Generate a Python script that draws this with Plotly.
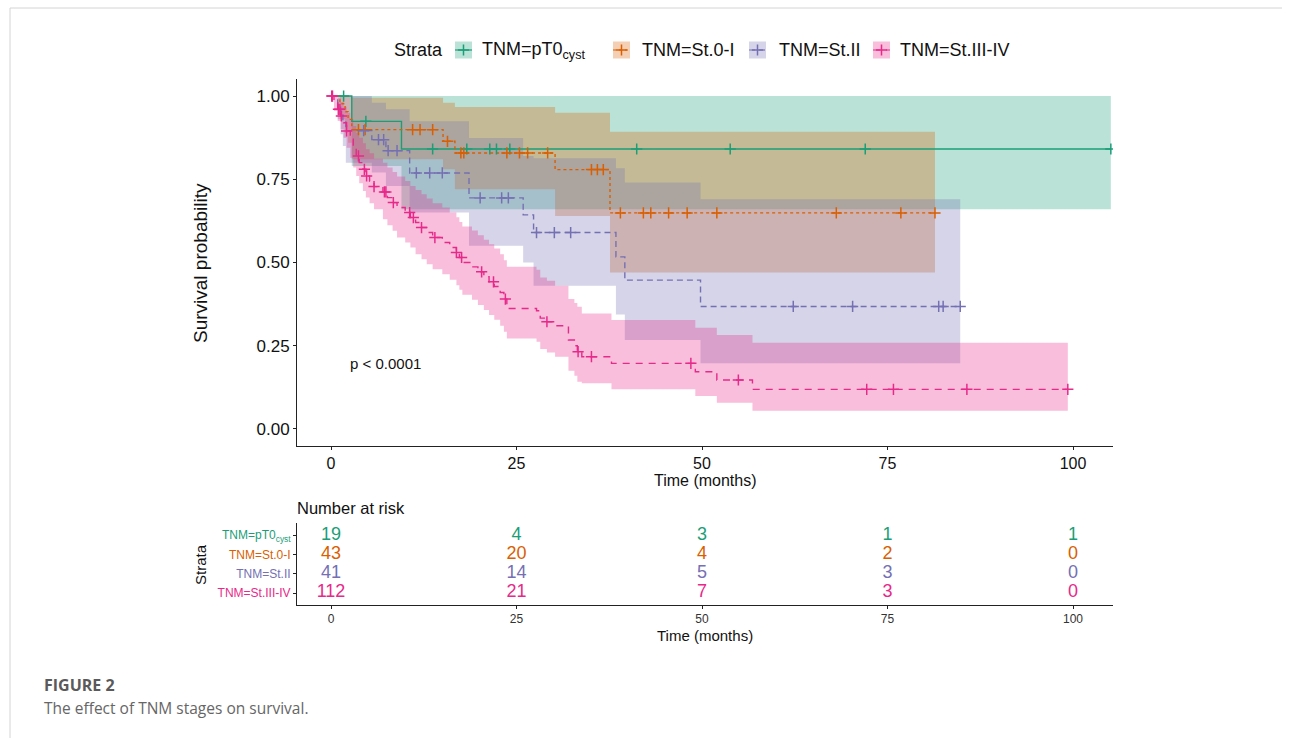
import plotly.graph_objects as go

W, H = 1292, 738

# ---------------- data ----------------
strata = ["TNM=pT0<sub>cyst</sub>", "TNM=St.0-I", "TNM=St.II", "TNM=St.III-IV"]
colors = ["#1B9E77", "#D95F02", "#7570B3", "#E7298A"]
fills = ["rgba(27,158,119,0.3)", "rgba(217,95,2,0.3)", "rgba(117,112,179,0.3)", "rgba(231,41,138,0.3)"]
dashes = ["solid", "3px,3px", "6px,4px", "7px,6px"]

# TNM=pT0cyst
pt0_time = [0, 2.8, 9.5]
pt0_surv = [1.0, 0.924, 0.841]
pt0_lower = [1.0, 0.79, 0.66]
pt0_upper = [1.0, 1.0, 1.0]
pt0_end = 105.1
pt0_censor = [1.7, 4.7, 13.7, 18.3, 21.4, 22.3, 24.1, 41.2, 53.8, 72.0, 105.1]

# TNM=St.0-I
st0_time = [0, 1.2, 1.9, 2.3, 2.8, 15.1, 16.7, 30.2, 37.6]
st0_surv = [1.0, 0.977, 0.953, 0.93, 0.899, 0.864, 0.829, 0.779, 0.649]
st0_lower = [1.0, 0.93, 0.89, 0.86, 0.81, 0.78, 0.72, 0.64, 0.47]
st0_upper = [1.0, 1.0, 1.0, 1.0, 0.995, 0.98, 0.967, 0.95, 0.893]
st0_end = 81.4
st0_censor = [3.7, 4.6, 11.0, 12.0, 13.7, 15.7, 17.5, 17.9, 23.7, 25.4, 26.5, 29.2,
              35.1, 35.9, 36.7, 39.0, 42.1, 43.1, 45.5, 48.0, 52.0, 68.1, 76.8, 81.4]

# TNM=St.II
st2_time = [0, 0.9, 1.3, 1.6, 2.0, 5.5, 7.4, 10.6, 18.6, 25.9, 27.3, 38.4, 39.6, 49.8]
st2_surv = [1.0, 0.975, 0.95, 0.925, 0.896, 0.869, 0.836, 0.769, 0.694, 0.643, 0.59, 0.517, 0.447, 0.368]
st2_lower = [1.0, 0.93, 0.885, 0.85, 0.80, 0.77, 0.73, 0.65, 0.55, 0.50, 0.43, 0.344, 0.267, 0.197]
st2_upper = [1.0, 1.0, 1.0, 1.0, 1.0, 0.98, 0.96, 0.924, 0.874, 0.82, 0.813, 0.783, 0.74, 0.69]
st2_end = 84.8
st2_censor = [4.4, 6.4, 7.1, 7.7, 8.9, 11.5, 13.3, 15.0, 20.1, 23.0, 23.9, 27.7, 30.1, 32.3,
              62.3, 70.3, 81.9, 82.5, 84.8]

# TNM=St.III-IV
st3_time = [0, 0.4, 0.9, 1.3, 1.7, 2.1, 2.6, 3.0, 3.4, 3.8, 4.3, 4.7, 5.2, 5.8, 7.0, 7.6, 8.3, 8.9,
            10.0, 10.7, 11.4, 12.2, 12.9, 13.7, 15.0, 16.0, 16.9, 17.3, 17.7, 19.0, 19.8, 20.6,
            21.3, 22.0, 22.8, 23.3, 23.7, 27.7, 28.2, 29.1, 30.2, 32.0, 32.8, 33.2, 33.8, 37.8,
            49.1, 52.0, 56.8]
st3_surv = [1.0, 0.98, 0.96, 0.94, 0.92, 0.895, 0.87, 0.845, 0.82, 0.80, 0.78, 0.76, 0.745, 0.728,
            0.712, 0.695, 0.68, 0.665, 0.65, 0.635, 0.62, 0.605, 0.59, 0.575, 0.56, 0.545, 0.53,
            0.515, 0.50, 0.487, 0.472, 0.457, 0.442, 0.428, 0.41, 0.39, 0.362, 0.355, 0.333,
            0.322, 0.31, 0.267, 0.25, 0.232, 0.217, 0.197, 0.172, 0.147, 0.119]
st3_lower = [1.0, 0.955, 0.925, 0.90, 0.875, 0.845, 0.815, 0.785, 0.76, 0.738, 0.715, 0.695, 0.678,
             0.66, 0.63, 0.612, 0.595, 0.575, 0.56, 0.545, 0.525, 0.51, 0.495, 0.48, 0.465, 0.448,
             0.432, 0.418, 0.403, 0.388, 0.372, 0.357, 0.342, 0.328, 0.31, 0.292, 0.272, 0.262,
             0.24, 0.23, 0.217, 0.175, 0.16, 0.142, 0.137, 0.119, 0.099, 0.079, 0.055]
st3_upper = [1.0, 1.0, 0.995, 0.982, 0.968, 0.95, 0.93, 0.91, 0.89, 0.875, 0.858, 0.84, 0.828,
             0.812, 0.80, 0.785, 0.772, 0.758, 0.745, 0.73, 0.718, 0.705, 0.692, 0.678, 0.665,
             0.65, 0.636, 0.622, 0.608, 0.596, 0.582, 0.568, 0.555, 0.542, 0.525, 0.507, 0.487,
             0.478, 0.455, 0.445, 0.43, 0.39, 0.378, 0.367, 0.347, 0.327, 0.304, 0.282, 0.259]
st3_end = 99.3
st3_censor = [0.1, 0.2, 1.0, 1.2, 1.4, 2.1, 3.7, 4.5, 4.8, 5.8, 7.2, 7.4, 8.4, 10.6, 11.1, 12.2,
              14.0, 16.9, 17.6, 20.3, 21.9, 23.5, 29.1, 33.3, 35.1, 48.5, 54.9, 72.2, 75.8, 85.7, 99.3]

# Number at risk
risk_times = [0, 25, 50, 75, 100]
risk_pt0 = [19, 4, 3, 1, 1]
risk_st0 = [43, 20, 4, 2, 0]
risk_st2 = [41, 14, 5, 3, 0]
risk_st3 = [112, 21, 7, 3, 0]

x_ticks = [0, 25, 50, 75, 100]
y_ticks = [0, 0.25, 0.5, 0.75, 1.0]
y_ticklabels = ["0.00", "0.25", "0.50", "0.75", "1.00"]

series = [
    (pt0_time, pt0_surv, pt0_lower, pt0_upper, pt0_end, pt0_censor),
    (st0_time, st0_surv, st0_lower, st0_upper, st0_end, st0_censor),
    (st2_time, st2_surv, st2_lower, st2_upper, st2_end, st2_censor),
    (st3_time, st3_surv, st3_lower, st3_upper, st3_end, st3_censor),
]
risks = [risk_pt0, risk_st0, risk_st2, risk_st3]

FONT = "Liberation Sans, Arial, sans-serif"


def px(x):
    return x / W


def py(y):
    return 1 - y / H


def surv_at(times, vals, t):
    v = vals[0]
    for tt, vv in zip(times, vals):
        if tt <= t:
            v = vv
    return v


fig = go.Figure()

# confidence bands
for i, (t, s, lo, up, end, cens) in enumerate(series):
    xs = list(t) + [end]
    fig.add_trace(go.Scatter(x=xs, y=list(lo) + [lo[-1]], mode="lines", line=dict(width=0, shape="hv"),
                             hoverinfo="skip", showlegend=False))
    fig.add_trace(go.Scatter(x=xs, y=list(up) + [up[-1]], mode="lines", line=dict(width=0, shape="hv"),
                             fill="tonexty", fillcolor=fills[i], hoverinfo="skip", showlegend=False))

# survival curves
for i, (t, s, lo, up, end, cens) in enumerate(series):
    fig.add_trace(go.Scatter(x=list(t) + [end], y=list(s) + [s[-1]], mode="lines",
                             line=dict(color=colors[i], width=1.4, dash=dashes[i], shape="hv"),
                             showlegend=False, name=strata[i]))

# censor marks
for i, (t, s, lo, up, end, cens) in enumerate(series):
    fig.add_trace(go.Scatter(x=cens, y=[surv_at(t, s, c) for c in cens], mode="markers",
                             marker=dict(symbol="cross-thin", size=8, line=dict(color=colors[i], width=1.5)),
                             showlegend=False))

# risk table numbers
rows = [4, 3, 2, 1]
for i, r in enumerate(risks):
    fig.add_trace(go.Scatter(x=risk_times, y=[rows[i]] * len(risk_times), mode="text",
                             text=[str(v) for v in r], textfont=dict(color=colors[i], size=18, family=FONT),
                             xaxis="x2", yaxis="y2", showlegend=False, cliponaxis=False))

# manual legend (pixel overlay axes)
key_x = [455, 613, 749, 873]
text_x = [480, 640, 777, 898]
key_y = 50
shapes = []
annotations = []
for i in range(4):
    shapes.append(dict(type="rect", xref="x3", yref="y3", x0=key_x[i], x1=key_x[i] + 17,
                       y0=key_y - 8.5, y1=key_y + 8.5, fillcolor=fills[i], line=dict(width=0), layer="below"))
    fig.add_trace(go.Scatter(x=[key_x[i], key_x[i] + 17], y=[key_y, key_y], mode="lines",
                             line=dict(color=colors[i], width=1.2, dash=dashes[i]),
                             xaxis="x3", yaxis="y3", showlegend=False, hoverinfo="skip"))
    fig.add_trace(go.Scatter(x=[key_x[i] + 8.5], y=[key_y], mode="markers",
                             marker=dict(symbol="cross-thin", size=8, line=dict(color=colors[i], width=1.5)),
                             xaxis="x3", yaxis="y3", showlegend=False, hoverinfo="skip"))
    annotations.append(dict(x=px(text_x[i]), y=py(key_y), xref="paper", yref="paper", text=strata[i],
                            showarrow=False, xanchor="left", yanchor="middle",
                            font=dict(size=18, color="#111111", family=FONT)))
annotations.append(dict(x=px(445), y=py(key_y), xref="paper", yref="paper", text="Strata", showarrow=False,
                        xanchor="right", yanchor="middle", font=dict(size=18, color="#111111", family=FONT)))

# axis titles and texts
annotations += [
    dict(x=px(200), y=py(263), xref="paper", yref="paper", text="Survival probability", textangle=-90,
         showarrow=False, xanchor="center", yanchor="middle", font=dict(size=19, color="#111111", family=FONT)),
    dict(x=px(705), y=py(480), xref="paper", yref="paper", text="Time (months)", showarrow=False,
         xanchor="center", yanchor="middle", font=dict(size=16, color="#111111", family=FONT)),
    dict(x=px(348), y=py(363), xref="paper", yref="paper", text="p < 0.0001", showarrow=False,
         xanchor="left", yanchor="middle", font=dict(size=15, color="#111111", family=FONT)),
    dict(x=px(295), y=py(508), xref="paper", yref="paper", text="Number at risk", showarrow=False,
         xanchor="left", yanchor="middle", font=dict(size=16.5, color="#111111", family=FONT)),
    dict(x=px(200), y=py(565), xref="paper", yref="paper", text="Strata", textangle=-90, showarrow=False,
         xanchor="center", yanchor="middle", font=dict(size=15, color="#111111", family=FONT)),
    dict(x=px(705), y=py(635), xref="paper", yref="paper", text="Time (months)", showarrow=False,
         xanchor="center", yanchor="middle", font=dict(size=15, color="#111111", family=FONT)),
    dict(x=px(42), y=py(685), xref="paper", yref="paper", text="<b>FIGURE 2</b>", showarrow=False,
         xanchor="left", yanchor="middle", font=dict(size=16, color="#5a5a5a", family="Open Sans, sans-serif")),
    dict(x=px(42), y=py(708), xref="paper", yref="paper", text="The effect of TNM stages on survival.",
         showarrow=False, xanchor="left", yanchor="middle",
         font=dict(size=15.5, color="#666666", family="Open Sans, sans-serif")),
]

# page frame
shapes += [
    dict(type="line", xref="paper", yref="paper", x0=px(10), x1=px(1282), y0=py(8), y1=py(8),
         line=dict(color="#d4d4d4", width=1)),
    dict(type="line", xref="paper", yref="paper", x0=px(10), x1=px(10), y0=py(8), y1=0,
         line=dict(color="#d4d4d4", width=1)),
]

xr = [(297 - 331) / 7.42, (1113 - 331) / 7.42]
axis_common = dict(showline=True, linecolor="#222222", linewidth=1, ticks="outside", ticklen=3,
                   tickcolor="#222222", showgrid=False, zeroline=False)

risk_ticktext = [f'<span style="color:{colors[i]}">{strata[i]}</span>' for i in range(4)]

fig.update_layout(
    width=W, height=H, margin=dict(l=0, r=0, t=0, b=0),
    paper_bgcolor="white", plot_bgcolor="rgba(0,0,0,0)",
    showlegend=False,
    font=dict(family=FONT, color="#111111"),
    xaxis=dict(domain=[px(297), px(1113)], range=xr, tickvals=x_ticks, anchor="y",
               tickfont=dict(size=16, color="#111111"), **axis_common),
    yaxis=dict(domain=[py(445.6), py(79.4)], range=[-0.05, 1.05], tickvals=y_ticks, ticktext=y_ticklabels,
               anchor="x", tickfont=dict(size=17, color="#111111"), **axis_common),
    xaxis2=dict(domain=[px(297), px(1113)], range=xr, tickvals=x_ticks, anchor="y2",
                tickfont=dict(size=12, color="#333333"), **axis_common),
    yaxis2=dict(domain=[py(604.6), py(523.4)], range=[0.4, 4.6], tickvals=rows, ticktext=risk_ticktext,
                anchor="x2", tickfont=dict(size=12), **axis_common),
    xaxis3=dict(domain=[0, 1], range=[0, W], visible=False, anchor="y3"),
    yaxis3=dict(domain=[0, 1], range=[H, 0], visible=False, anchor="x3"),
    shapes=shapes,
    annotations=annotations,
)

fig.write_html("out.html")
